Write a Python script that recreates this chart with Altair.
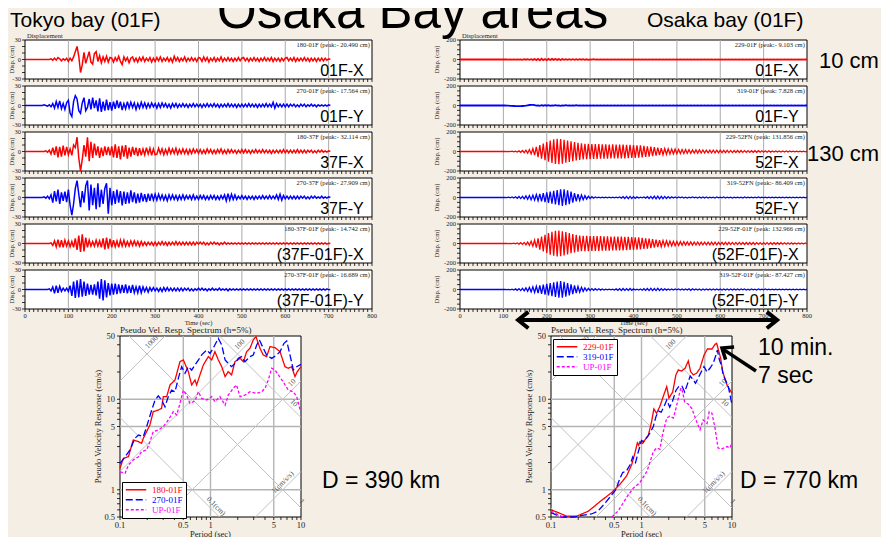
import math
import altair as alt
import pandas as pd

BG = "#F5EEE4"
RED, BLUE, MAGENTA = "#FF0000", "#0000FF", "#FF00FF"
SERIF, SANS = "Liberation Serif", "Liberation Sans"
W, H = 873, 529

# ---------------- displacement records (cm), one value every STEP seconds ----------------
STEP = 4
TOKYO_T0 = 40
OSAKA_T0 = 100
GRID_T = [100, 200, 300, 400, 500, 600, 700]
X_TICKS = list(range(0, 801, 10))
X_LABELS = list(range(0, 801, 100))

TK_01F_X = [0, 0, 0, 0, 0,
            1, -1, 2, -1, 3, 1, -2, 1, -1, 2,
            -3, 2, -2, 4, 12,
            20, 5, -20, -8, 11, -6, 3, 12, -4, -7, 9, 12, -3, 6, -5, 4, -3, 5, -4, 3,
            2, -4, 3, -2, 5, -3, -8, 4, -2, 3, -5, 2, 4, -3, 2, -4, 3, -2, 4, -3, 2, -2, 3, -4, 2, -3,
            3, -2, 4, -3, 2, -2, 3, -3, 2, -4, 5, -2, 3, -3, 2, -2, 4, -3, 2, -2, 3, -2, 2, -3, 3,
            2, -3, 4, -2, 3, -4, 2, -2, 3, -3, 2, -2, 4, -3, 2, -2, 3, -2, 2, -3, 2, -2, 3, -2, 2,
            3, -2, 2, -3, 2, -2, 3, -2, 2, -3, 2, -2, 3, -2, 2, -2, 3, -3, 2, -2, 2, -3, 2, -2, 2,
            3, -2, 2, -2, 3, -3, 2, -2, 2, -2, 3, -2, 2, -3, 2, -2, 2, -3, 2, -2, 2, -2, 2, -1, 1, 0]

TK_01F_Y = [0, 1, 0, -1, 1,
            -2, 3, -4, 6, -3, 7, -5, 3, -6, 4,
            8, -12, -17, 6, 15,
            10, -8, -12, 4, 12, -8, -3, 10, -6, 12, -4, 8, -9, 11, -10, 6, -8, 9, -7, 5,
            -8, 6, -5, 8, -4, 6, -7, 3, -5, 6, -4, 5, -3, 4, -6, 3, -4, 5, -3, 4, -4, 3, -3, 4, -2, 3,
            -4, 3, -3, 4, -2, 3, -3, 2, -4, 3, -2, 3, -3, 2, -2, 3, -2, 2, -3, 2, -2, 3, -2, 2, -2,
            2, -3, 2, -2, 3, -2, 2, -2, 3, -2, 2, -3, 2, -2, 2, -2, 3, -2, 2, -2, 2, -3, 2, -2, 2,
            -2, 2, -2, 3, -2, 2, -2, 2, -3, 2, -2, 2, -2, 3, -2, 2, -2, 5, -4, 3, -2, 2, -2, 2, -2,
            2, -2, 2, -1, 2, -2, 1, -2, 2, -1, 2, -2, 1, -1, 2, -1, 1, -2, 1, -1, 1, -1, 1, -1, 1, 0]

TK_37F_X = [0, 0, 1, -1, 2,
            -4, 6, -5, 8, -9, 7, -8, 9, -6, 7,
            -5, 4, -6, 10, 6,
            22, -10, -30, -12, 10, -8, 22, -15, 15, -10, 12, -6, 8, -10, 6, -7, 8, -5, 7, -6,
            8, -9, 11, -10, 8, -12, 9, -8, 10, -11, 6, -8, 7, -5, 6, -7, 5, -6, 4, -5, 6, -4, 5, -6, 4, -5,
            -4, 5, -3, 4, -5, 3, -4, 5, -3, 4, -3, 5, -4, 3, -3, 4, -3, 3, -4, 3, -3, 4, -2, 3, -3,
            3, -3, 2, -3, 4, -2, 3, -3, 2, -3, 3, -2, 4, -3, 2, -3, 3, -2, 3, -2, 2, -3, 2, -2, 3,
            -2, 3, -2, 2, -3, 2, -2, 3, -2, 2, -2, 3, -2, 2, -2, 2, -3, 2, -2, 2, -2, 2, -2, 3, -2,
            2, -2, 2, -2, 2, -2, 3, -2, 2, -2, 2, -2, 2, -1, 2, -2, 1, -2, 2, -1, 2, -1, 1, -1, 1, 0]

TK_37F_Y = [0, 1, -1, 2, -2,
            4, -8, 10, -6, 12, -10, 8, -5, 9, -7,
            12, -12, -27, -10, 14,
            26, 5, -15, 10, -8, 18, 26, -20, 20, -12, 15, -18, 22, -15, 12, -10, 14, 22, -25, 15,
            -12, 10, -10, 12, -8, 10, -12, 9, -10, 8, -9, 11, -7, 8, -9, 6, -8, 7, -6, 5, -7, 6, -5, 6, -4, 5,
            -4, 5, -3, 4, -4, 3, -5, 4, -3, 4, -3, 3, -4, 3, -3, 4, -3, 3, -2, 3, -3, 4, -3, 2, -3,
            3, -2, 3, -3, 2, -3, 3, -2, 3, -3, 2, -3, 3, -2, 4, -5, 6, -4, 5, -3, 4, -3, 2, -2, 3,
            -2, 2, -3, 2, -2, 2, -3, 2, -2, 2, -2, 3, -2, 2, -2, 3, -2, 2, -2, 4, -3, 5, -4, 3, -2,
            2, -2, 2, -2, 2, -2, 2, -2, 2, -1, 2, -2, 1, -2, 2, -1, 2, -1, 1, -1, 2, -1, 1, -1, 1, 0]

TK_REL_X = [0, 0, 0, 0, 0,
            1, -3, 4, -5, 6, -6, 5, -6, 5, -4,
            4, -5, 3, -6, 8,
            -10, 12, -13, 14, -12, 9, -6, 5, -4, 3, -4, 5, -4, 4, -6, 8, -9, 9, -8, 7,
            -6, 5, -5, 4, -6, 5, -4, 5, -4, 3, -4, 4, -3, 4, -3, 3, -4, 3, -3, 2, -3, 2, -2, 2, -3, 2,
            -3, 2, -2, 3, -2, 2, -3, 2, -2, 2, -2, 3, -2, 2, -2, 2, -2, 2, -2, 2, -2, 2, -2, 2, -1,
            2, -1, 2, -2, 1, -2, 2, -1, 2, -1, 1, -2, 1, -1, 2, -1, 1, -1, 1, -1, 1, -1, 1, -1, 1,
            -1, 1, -1, 1, -1, 1, -1, 1, -1, 1, -1, 1, -1, 1, -1, 1, -1, 1, -1, 1, -1, 1, -1, 1, -1,
            1, -1, 1, -1, 1, -1, 1, -1, 1, -1, 1, -1, 1, -1, 1, -1, 1, -1, 1, -1, 1, -1, 1, -1, 0.5, 0]

TK_REL_Y = [0, 0, 0, 0, 1,
            -2, 4, -6, 6, -5, 5, -3, 2, -2, 2,
            -3, 6, -10, 12, -13,
            14, -12, 16, -11, 12, -10, 9, -8, 7, -8, 8, -9, 12, -14, 16, -17, 14, -12, 10, -9,
            9, -8, 9, -7, 8, -6, 7, -5, 8, -6, 6, -5, 7, -5, 4, -5, 6, -5, 4, -3, 3, -4, 3, -2, 3, -2,
            2, -3, 2, -3, 3, -2, 3, -2, 2, -2, 2, -2, 2, -2, 2, -2, 2, -1, 2, -2, 1, -2, 1, -1, 2,
            -1, 2, -1, 1, -2, 1, -1, 2, -1, 1, -1, 2, -1, 1, -1, 1, -2, 1, -1, 1, -1, 1, -1, 1, -1,
            1, -1, 1, -1, 1, -1, 1, -1, 1, -1, 1, -1, 1, -1, 1, -1, 1, -1, 1, -1, 1, -1, 1, -1, 1,
            -1, 1, -1, 1, -1, 1, -1, 1, -1, 1, -1, 1, -1, 1, -1, 1, -1, 1, -1, 1, -1, 1, -1, 1, -0.5, 0]

OS_01F_X = [0, 0, 1, -1, 1, -1, 1, -2,
            2, -2, 2, -3, 3, -2, 3, -3,
            3, -4, 5, -6, 7, -9, 8, -6,
            5, -7, 6, -5, 6, -4, 5, -4,
            4, -5, 4, -3, 4, -3, 3, -4,
            3, -3, 4, -3, 3, -2, 3, -3,
            2, -3, 2, -2, 3, -2, 2, -2,
            2, -2, 2, -2, 2, -1, 2, -2,
            2, -2, 1, -2, 2, -1, 2, -1,
            1, -2, 1, -1, 2, -1, 1, -1,
            1, -1, 2, -1, 1, -1, 1, -2,
            1, -1, 1, -1, 2, -1, 1, -1,
            1, -1, 1, -1, 1, -1, 1, -1,
            1, -1, 1, -2, 1, -1, 1, -1,
            1, -1, 1, -1, 1, -1, 1, -1,
            1, -1, 1, -1, 1, -1, 1, -1,
            1, -1, 1, -1, 1, -1, 1, -1,
            1, -1, 1, -1, 1, -1, 1, -1,
            1, -1, 1, -1, 1, -1, 1, -1,
            1, -1, 1, -1, 1, -1, 1, -1,
            1, -1, 1, -1, 1, -1, 1, -1,
            1, -1, 1, -1, 1, -1, 1, 0]

OS_01F_Y = [0, 0, -1, -2, -3, -4, -5, -6,
            -7, -6, -7, -5, -3, -1, 2, 5,
            7, 6, 3, -2, 2, -3, 3, -2,
            3, -2, 4, -3, 2, -2, 3, -2,
            2, -3, 2, -2, 3, -2, 2, -2,
            2, -2, 3, -2, 2, -2, 2, -1,
            2, -1, 2, -2, 1, -1, 2, -1,
            1, -1, 2, -1, 1, -1, 1, -1,
            1, -1, 1, -1, 1, -1, 1, -1,
            1, -1, 1, -1, 1, -1, 1, -1,
            1, -1, 1, -1, 1, -1, 1, -1,
            1, -1, 1, -1, 1, -1, 1, -1,
            1, -1, 1, -1, 1, -1, 1, -1,
            1, -1, 1, -1, 1, -1, 1, -1,
            1, -1, 1, -1, 1, -1, 1, -1,
            1, -1, 1, -1, 1, -1, 1, -1,
            1, -1, 1, -1, 1, -1, 1, -1,
            1, -1, 1, -1, 1, -1, 1, -1,
            1, -1, 1, -1, 1, -1, 1, -1,
            1, -1, 1, -1, 1, -1, 1, -1,
            1, -1, 1, -1, 1, -1, 1, -1,
            1, -1, 1, -1, 1, -1, 1, 0]

OS_52F_X = [0, 1, -1, 2, -2, 3, -3, 4,
            -5, 6, -8, 10, -12, 14, -17, 20,
            -24, 30, -38, 48, -58, 66, -74, 82,
            -90, 98, -105, 112, -118, 124, -128, 131,
            -130, 128, -125, 120, -116, 112, -108, 104,
            -100, 96, -92, 88, -86, 84, -82, 80,
            -80, 78, -78, 77, -76, 76, -75, 75,
            -74, 74, -73, 74, -73, 72, -72, 73,
            -72, 72, -71, 71, -70, 70, -70, 69,
            -68, 68, -67, 66, -65, 64, -63, 62,
            -60, 58, -56, 54, -52, 50, -48, 45,
            -42, 40, -38, 35, -33, 30, -28, 27,
            -26, 25, -24, 24, -22, 22, -21, 20,
            -20, 19, -19, 18, -18, 17, -17, 16,
            -16, 16, -15, 15, -15, 14, -14, 14,
            -14, 13, -13, 14, -13, 13, -12, 12,
            -12, 12, -11, 11, -11, 10, -10, 10,
            -10, 10, -9, 9, -9, 9, -9, 8,
            -8, 8, -8, 8, -7, 7, -7, 7,
            -7, 7, -6, 6, -6, 6, -6, 5,
            -5, 5, -5, 5, -5, 5, -4, 4,
            -4, 4, -4, 4, -4, 4, -3, 3]

OS_52F_Y = [0, 1, -2, 3, -4, 5, -6, 7,
            -8, 10, -11, 12, -14, 16, -18, 20,
            -22, 24, -27, 30, -33, 36, -40, 44,
            -48, 52, -56, 60, -64, 68, -72, 76,
            -80, 84, -87, 85, -80, 74, -68, 60,
            -52, 46, -40, 35, -30, 26, -22, 19,
            -16, 13, -10, 8, -6, 5, -4, 4,
            -3, 4, -4, 3, -4, 3, -3, 4,
            -4, 3, -4, 5, -6, 8, -10, 11,
            -12, 11, -10, 9, -8, 6, -5, 4,
            -4, 5, -6, 8, -10, 11, -12, 13,
            -13, 14, -13, 12, -12, 11, -10, 9,
            -8, 7, -6, 5, -5, 5, -4, 5,
            -5, 4, -5, 4, -4, 5, -4, 4,
            -5, 5, -6, 6, -6, 5, -5, 4,
            -4, 4, -5, 5, -4, 4, -4, 5,
            -5, 4, -4, 4, -5, 4, -4, 4,
            -4, 4, -5, 5, -4, 4, -4, 4,
            -4, 4, -4, 5, -4, 4, -4, 4,
            -4, 4, -4, 4, -4, 3, -4, 4,
            -4, 4, -3, 4, -4, 3, -3, 3,
            -3, 3, -3, 3, -3, 3, -3, 3]

OS_REL_X = [0, 0, 1, -1, 2, -2, 3, -4,
            5, -6, 8, -9, 11, -13, 15, -18,
            22, -28, 34, -42, 52, -62, 72, -82,
            90, -98, 106, -114, 120, -126, 130, -133,
            132, -130, 126, -122, 118, -112, 106, -100,
            96, -92, 88, -85, 82, -80, 80, -79,
            78, -78, 77, -76, 76, -76, 75, -75,
            75, -74, 74, -74, 73, -73, 72, -72,
            72, -71, 71, -70, 70, -70, 69, -68,
            68, -67, 66, -65, 64, -63, 62, -60,
            58, -56, 54, -52, 50, -48, 45, -42,
            40, -38, 35, -33, 30, -28, 27, -26,
            25, -24, 23, -22, 21, -20, 19, -18,
            18, -17, 17, -16, 16, -16, 15, -15,
            15, -15, 14, -14, 14, -14, 14, -13,
            13, -13, 13, -13, 12, -12, 12, -12,
            12, -12, 12, -11, 11, -11, 11, -11,
            11, -10, 10, -10, 10, -10, 10, -10,
            10, -10, 9, -9, 9, -9, 9, -9,
            9, -9, 8, -8, 8, -8, 8, -8,
            8, -7, 7, -7, 7, -7, 7, -6,
            6, -6, 6, -6, 5, -5, 5, -5]

OS_REL_Y = [0, 1, -1, 2, -3, 4, -5, 6,
            -8, 9, -11, 12, -14, 16, -18, 21,
            -24, 27, -30, 33, -37, 41, -45, 49,
            -53, 57, -61, 65, -69, 73, -77, 81,
            -84, 87, -85, 80, -74, 67, -60, 53,
            -47, 41, -36, 31, -27, 23, -19, 16,
            -14, 12, -10, 9, -8, 8, -7, 7,
            -6, 6, -5, 4, -4, 3, -4, 4,
            -5, 6, -8, 9, -10, 10, -9, 8,
            -9, 10, -8, 6, -5, 4, -5, 6,
            -7, 8, -9, 10, -11, 12, -11, 10,
            -11, 12, -10, 9, -8, 7, -6, 6,
            -5, 5, -6, 5, -4, 5, -5, 6,
            -6, 5, -6, 7, -8, 7, -6, 5,
            -5, 6, -7, 6, -5, 6, -6, 5,
            -5, 5, -6, 6, -5, 5, -5, 6,
            -6, 5, -5, 5, -6, 6, -5, 5,
            -5, 5, -4, 5, -5, 4, -5, 5,
            -4, 4, -5, 5, -4, 4, -4, 5,
            -4, 4, -4, 4, -4, 4, -4, 4,
            -4, 4, -3, 4, -4, 3, -3, 3,
            -3, 3, -3, 3, -3, 3, -3, 3]

# ---------------- pseudo velocity response spectra (period s, cm/s) ----------------
TK_SPEC_NAMES = ["180-01F", "270-01F", "UP-01F"]
TK_180_T = [0.1, 0.109, 0.124, 0.14, 0.16, 0.173, 0.181, 0.214, 0.233, 0.265, 0.288, 0.301, 0.328, 0.357, 0.405,
            0.46, 0.501, 0.569, 0.619, 0.674, 0.703, 0.765, 0.833, 0.946, 1.03, 1.12, 1.22, 1.33, 1.45, 1.57,
            1.71, 1.86, 2.12, 2.31, 2.51, 2.73, 2.97, 3.18, 3.52, 3.83, 4.17, 4.54, 5.16, 5.86, 6.11,
            6.65, 7.24, 7.88, 8.58, 9.1, 10]
TK_180_SV = [1.73, 2.22, 2.32, 3.55, 3.4, 3.26, 3.7, 5.2, 7.3, 7.6, 7.94, 10.7, 10.7, 14.4, 16.3,
             26, 27.2, 20.2, 14.4, 16.3, 14.4, 18.6, 23.9, 29.6, 27.2, 33.6, 27.2, 22.9, 17.8, 20.2,
             18.6, 26, 28.3, 26, 33.6, 36.6, 45.2, 49.2, 36.6, 30.8, 29.6, 38.1, 37.2, 33.6, 29.6,
             22.9, 22.0, 22.9, 17.8, 20.2, 22.9]
TK_270_T = [0.1, 0.114, 0.129, 0.146, 0.16, 0.181, 0.197, 0.224, 0.244, 0.265, 0.288, 0.314, 0.342, 0.372, 0.405,
            0.441, 0.48, 0.523, 0.569, 0.619, 0.674, 0.734, 0.799, 0.907, 0.987, 1.07, 1.22, 1.33, 1.45, 1.57,
            1.71, 1.86, 2.03, 2.21, 2.4, 2.73, 2.97, 3.24, 3.47, 3.83, 4.17, 4.74, 5.38, 5.86, 6.49,
            6.95, 7.56, 8.23, 8.96, 10]
TK_270_SV = [1.96, 2.32, 2.75, 3.7, 4.03, 3.86, 4.98, 7.6, 9.8, 10.9, 9.8, 8.27, 10.7, 12.6, 12.1,
             17.0, 22.9, 19.4, 22.9, 21.0, 24.0, 27.0, 31.0, 35.0, 32.1, 36.6, 47.1, 39.8, 27.2, 24.9,
             22.9, 24.9, 28.3, 29.6, 26, 29.6, 30.8, 39.8, 45.2, 36.6, 30.8, 28.3, 30.8, 33.6, 41.5,
             44.0, 30.8, 21.1, 22.9, 24.3]
TK_UP_T = [0.1, 0.114, 0.124, 0.14, 0.16, 0.173, 0.197, 0.214, 0.233, 0.265, 0.301, 0.342, 0.389, 0.423, 0.46,
           0.501, 0.545, 0.593, 0.674, 0.734, 0.799, 0.907, 1.03, 1.12, 1.27, 1.45, 1.57, 1.78, 1.94, 2.12,
           2.4, 2.73, 3.24, 3.68, 4.0, 4.35, 4.74, 5.16, 5.62, 6.38, 7.24, 8.23, 8.96, 9.9]
TK_UP_SV = [1.58, 1.52, 1.88, 2.13, 2.32, 2.64, 2.75, 3.4, 4.39, 4.57, 4.98, 5.9, 7.3, 6.7, 9.0,
            12.6, 11.1, 9.0, 9.6, 12.1, 10.2, 9.8, 10.7, 9.4, 10.7, 8.6, 11.1, 13.2, 14.4, 10.7,
            11.1, 12.1, 11.6, 12.1, 13.2, 16.3, 22, 21.1, 18.6, 15.5, 12.6, 12.1, 10.7, 7.3]

OS_SPEC_NAMES = ["229-01F", "319-01F", "UP-01F"]
OS_229_T = [0.1, 0.12, 0.149, 0.192, 0.259, 0.348, 0.468, 0.578, 0.685, 0.78, 0.85, 0.9, 0.93, 0.962, 1.03,
            1.09, 1.19, 1.29, 1.37, 1.47, 1.6, 1.77, 1.9, 2.01, 2.21, 2.4, 2.55, 2.78, 3.03, 3.29,
            3.49, 3.74, 4.07, 4.43, 4.91, 5.34, 6.0, 6.5, 6.77, 7.0, 7.5, 7.88, 8.8, 10]
OS_229_SV = [0.6, 0.56, 0.51, 0.51, 0.58, 0.74, 0.93, 1.15, 1.42, 1.9, 2.6, 3.3, 3.1, 3.4, 3.25,
             3.55, 4.0, 5.6, 7.8, 7.0, 8.4, 11.3, 13.8, 10.3, 12.0, 18.6, 21.1, 20.5, 22, 26.5,
             20.2, 18.6, 19.4, 22, 30.8, 35.9, 35.9, 40.5, 41.5, 36.6, 28.3, 20.2, 14.4, 11.6]
OS_319_T = [0.1, 0.13, 0.18, 0.22, 0.28, 0.33, 0.4, 0.47, 0.52, 0.58, 0.62, 0.68, 0.75, 0.8, 0.86,
            0.92, 1.0, 1.05, 1.15, 1.25, 1.35, 1.45, 1.55, 1.65, 1.8, 1.9, 2.05, 2.2, 2.4, 2.6,
            2.8, 3.0, 3.2, 3.45, 3.7, 3.95, 4.4, 4.9, 5.3, 5.7, 6.2, 6.6, 6.9, 7.2, 7.7, 8.0, 9.1, 10]
OS_319_SV = [0.56, 0.5, 0.5, 0.52, 0.54, 0.58, 0.72, 0.88, 1.0, 1.35, 1.55, 1.6, 1.9, 2.3, 2.0,
             2.6, 3.5, 3.4, 3.8, 4.3, 5.0, 6.5, 7.4, 7.2, 8.6, 9.8, 8.2, 9.5, 12.5, 14.0,
             14.0, 12.0, 14.5, 18.0, 16.5, 15.0, 18.6, 23, 20, 22, 25, 30, 35, 28, 23, 18.6, 13.8, 8.7]
OS_UP_T = [0.1, 0.12, 0.135,
           0.47, 0.55, 0.62, 0.7, 0.81, 0.96, 1.15, 1.35, 1.47, 1.6, 1.7, 1.9, 2.05, 2.25, 2.4,
           2.7, 2.78, 3.0, 3.3, 3.6, 4.07, 4.43, 4.8, 5.3, 5.6, 6.0, 6.5, 7.0, 7.6, 8.8, 9.5, 10]
OS_UP_SV = [0.58, 0.53, 0.5,
            0.5, 0.58, 0.7, 0.85, 1.04, 1.2, 1.6, 2.64, 2.9, 2.8, 4.0, 6.2, 6.5, 6.2, 7.9,
            13, 13.3, 9.3, 8.8, 7.9, 5.65, 4.6, 5.9, 5.4, 7.3, 7.0, 4.8, 2.9, 2.8, 3.0, 2.9, 3.3]
OS_UP_BREAK = 3  # the curve leaves the plot (below 0.5 cm/s) after the 3rd point

T_TICKS = [0.1, 0.2, 0.3, 0.4, 0.5, 0.6, 0.7, 0.8, 0.9, 1, 2, 3, 4, 5, 6, 7, 8, 9, 10]
SV_TICKS = [0.5, 0.6, 0.7, 0.8, 0.9, 1, 2, 3, 4, 5, 6, 7, 8, 9, 10, 20, 30, 40, 50]
T_LABELS = ["0.1", "0.5", "1", "5", "10"]
SV_LABELS = ["0.5", "1", "5", "10", "50"]
T_GRID = [0.5, 1, 5]
SV_GRID = [1, 5, 10]
ACC_LINES = [1, 10, 100, 1000]      # cm/s/s
DISP_LINES = [0.01, 0.1, 1, 10]     # cm
DIAG_LABELS = ["1000", "100", "10", "1(cm/s/s)", "10", "1", "0.1(cm)"]
DIAG_KIND = ["A", "A", "A", "A", "D", "D", "D"]
DIAG_LEVEL = [1000, 100, 10, 1, 10, 1, 0.1]
DIAG_AT_T = [0.245, 2.3, 8.7, 6.9, 7.6, 9.3, 1.05]

LABEL_COLOR_EXPR = ("indexof(['180-01F','229-01F'], datum.value) >= 0 ? '#FF0000' : "
                    "(datum.value == 'UP-01F' ? '#FF00FF' : '#0000FF')")
CHEVRON = "M-1,-0.8L0,0L-1,0.8"

LEFT_X = [17, 364]
RIGHT_X = [452, 799]
INK = "#222222"


def txt_layer(df, xs, ys, xf, yf, **mark):
    return alt.Chart(df).mark_text(**mark).encode(
        x=alt.X(f"{xf}:Q", scale=xs, axis=None), y=alt.Y(f"{yf}:Q", scale=ys, axis=None), text="s:N")


def wave_panel(side, row, t0, vals, color, peak, label, ymax, ystep, width):
    xr = LEFT_X if side == "L" else RIGHT_X
    top = 32 + 46 * row
    bot = top + 39
    xs = alt.Scale(domain=[0, 800], range=xr, nice=False, zero=False)
    ys = alt.Scale(domain=[-ymax, ymax], range=[bot, top], nice=False, zero=False)
    last = row == 5
    frame_df = pd.DataFrame({"x0": [0], "x1": [800], "y0": [-ymax], "y1": [ymax]})
    frame = alt.Chart(frame_df).mark_rect(fill="white", stroke="black", strokeWidth=1).encode(
        x=alt.X("x0:Q", scale=xs, axis=None), x2="x1:Q",
        y=alt.Y("y0:Q", scale=ys, axis=None), y2="y1:Q")
    grid_df = pd.DataFrame({"g": GRID_T, "y0": [-ymax] * len(GRID_T), "y1": [ymax] * len(GRID_T)})
    grid = alt.Chart(grid_df).mark_rule(color="#ABABAB", strokeWidth=1).encode(
        x=alt.X("g:Q", scale=xs, axis=None), y=alt.Y("y0:Q", scale=ys, axis=None), y2="y1:Q")
    times = [0] + [t0 + STEP * i for i in range(len(vals))]
    wave_df = pd.DataFrame({"t": times, "v": [0] + list(vals)})
    wave = alt.Chart(wave_df).mark_line(color=color, strokeWidth=width).encode(
        x=alt.X("t:Q", scale=xs, axis=None), y=alt.Y("v:Q", scale=ys, axis=None))
    # axes drawn as marks through the panel scales
    xt = alt.Chart(pd.DataFrame({"t": X_TICKS, "yb": [-ymax] * len(X_TICKS)})).mark_rule(
        color="black", strokeWidth=0.8, y2Offset=3).encode(
        x=alt.X("t:Q", scale=xs, axis=None), y=alt.Y("yb:Q", scale=ys, axis=None), y2="yb:Q")
    yvals = list(range(-ymax, ymax + 1, ystep))
    yt = alt.Chart(pd.DataFrame({"v": yvals, "x0": [0] * len(yvals)})).mark_rule(
        color="black", strokeWidth=0.8, x2Offset=-3).encode(
        x=alt.X("x0:Q", scale=xs, axis=None), x2="x0:Q", y=alt.Y("v:Q", scale=ys, axis=None))
    ylab = txt_layer(pd.DataFrame({"x": [0, 0, 0], "y": [ymax, 0, -ymax],
                                   "s": [str(ymax), "0", str(-ymax)]}), xs, ys, "x", "y",
                     align="right", baseline="middle", dx=-4, font=SERIF, fontSize=6.5, color=INK)
    ytitle = alt.Chart(pd.DataFrame({"x": [0], "y": [0], "s": ["Disp. (cm)"]})).mark_text(
        angle=270, align="center", baseline="middle", dy=-13.5 if side == "L" else -23,
        font=SERIF, fontSize=6.5, color=INK).encode(
        x=alt.X("x:Q", scale=xs, axis=None), y=alt.Y("y:Q", scale=ys, axis=None), text="s:N")
    pk = txt_layer(pd.DataFrame({"x": [795], "y": [ymax], "s": [peak]}), xs, ys, "x", "y",
                   align="right", baseline="top", dy=2, font=SERIF, fontSize=6.5, color=INK)
    big = txt_layer(pd.DataFrame({"x": [781], "y": [-ymax], "s": [label]}), xs, ys, "x", "y",
                    align="right", baseline="alphabetic", dy=-3, font=SANS, fontSize=16, color="black")
    layers = [frame, grid, wave, xt, yt, ylab, ytitle, pk, big]
    if row == 0:
        layers.append(txt_layer(pd.DataFrame({"x": [0], "y": [ymax], "s": ["Displacement"]}), xs, ys, "x", "y",
                                align="left", baseline="bottom", dx=2, dy=-1, font=SERIF, fontSize=6.5,
                                color=INK))
    if last:
        layers.append(txt_layer(pd.DataFrame({"x": X_LABELS, "y": [-ymax] * len(X_LABELS),
                                              "s": [str(v) for v in X_LABELS]}), xs, ys, "x", "y",
                                align="center", baseline="top", dy=4, font=SERIF, fontSize=6.5, color=INK))
        layers.append(txt_layer(pd.DataFrame({"x": [400], "y": [-ymax], "s": ["Time (sec)"]}), xs, ys, "x", "y",
                                align="center", baseline="top", dy=11, font=SERIF, fontSize=6.5, color=INK))
    if side == "R" and last:
        arr_df = pd.DataFrame({"t0": [140], "t1": [725], "y": [-313]})
        shaft = alt.Chart(arr_df).mark_rule(color="black", strokeWidth=4).encode(
            x=alt.X("t0:Q", scale=xs, axis=None), x2="t1:Q", y=alt.Y("y:Q", scale=ys, axis=None))
        heads_df = pd.DataFrame({"t": [134, 731], "y": [-313, -313], "ang": [180, 0]})
        heads = alt.Chart(heads_df).mark_point(shape=CHEVRON, size=420, filled=False, color="black",
                                               strokeWidth=4, opacity=1, strokeJoin="miter").encode(
            x=alt.X("t:Q", scale=xs, axis=None), y=alt.Y("y:Q", scale=ys, axis=None),
            angle=alt.Angle("ang:Q", scale=None))
        layers += [shaft, heads]
    return alt.layer(*layers)


def diag_segments():
    rows = []
    lo_t, hi_t = -1.0, 1.0
    lo_s, hi_s = math.log10(0.5), math.log10(50)
    for a in ACC_LINES:
        c = math.log10(a / (2 * math.pi))
        t1, t2 = max(lo_t, lo_s - c), min(hi_t, hi_s - c)
        if t1 < t2:
            rows.append({"x0": 10 ** t1, "x1": 10 ** t2, "y0": 10 ** (c + t1), "y1": 10 ** (c + t2)})
    for d in DISP_LINES:
        c = math.log10(2 * math.pi * d)
        t1, t2 = max(lo_t, c - hi_s), min(hi_t, c - lo_s)
        if t1 < t2:
            rows.append({"x0": 10 ** t1, "x1": 10 ** t2, "y0": 10 ** (c - t1), "y1": 10 ** (c - t2)})
    return pd.DataFrame(rows)


def spectrum(side, names, curves, legend_xy):
    xr = [112, 293] if side == "L" else [543, 724]
    xs = alt.Scale(type="log", domain=[0.1, 10], range=xr, nice=False)
    ys = alt.Scale(type="log", domain=[0.5, 50], range=[509, 328], nice=False)
    frame = alt.Chart(pd.DataFrame({"x0": [0.1], "x1": [10], "y0": [0.5], "y1": [50]})).mark_rect(
        fill="white", stroke="black", strokeWidth=1).encode(
        x=alt.X("x0:Q", scale=xs, axis=None), x2="x1:Q", y=alt.Y("y0:Q", scale=ys, axis=None), y2="y1:Q")
    g_rows = [{"x0": t, "x1": t, "y0": 0.5, "y1": 50} for t in T_GRID] + \
             [{"x0": 0.1, "x1": 10, "y0": s, "y1": s} for s in SV_GRID]
    grid = alt.Chart(pd.DataFrame(g_rows)).mark_rule(color="#B4B4B4", strokeWidth=1.4).encode(
        x=alt.X("x0:Q", scale=xs, axis=None), x2="x1:Q", y=alt.Y("y0:Q", scale=ys, axis=None), y2="y1:Q")
    diag = alt.Chart(diag_segments()).mark_rule(color="#C2C2C2", strokeWidth=1).encode(
        x=alt.X("x0:Q", scale=xs, axis=None), x2="x1:Q", y=alt.Y("y0:Q", scale=ys, axis=None), y2="y1:Q")
    lab_rows = []
    for txt, kind, lev, t in zip(DIAG_LABELS, DIAG_KIND, DIAG_LEVEL, DIAG_AT_T):
        sv = lev * t / (2 * math.pi) if kind == "A" else 2 * math.pi * lev / t
        lab_rows.append({"T": t, "Sv": sv, "txt": txt, "ang": 315 if kind == "A" else 45})
    dlab = alt.Chart(pd.DataFrame(lab_rows)).mark_text(
        font=SERIF, fontSize=7.5, color="#555", baseline="bottom", dy=-1).encode(
        x=alt.X("T:Q", scale=xs, axis=None), y=alt.Y("Sv:Q", scale=ys, axis=None), text="txt:N",
        angle=alt.Angle("ang:Q", scale=None))
    rows = []
    for name, (ts, svs, brk) in zip(names, curves):
        for i, (t, s) in enumerate(zip(ts, svs)):
            rows.append({"T": t, "Sv": s, "comp": name, "seg": name + ("a" if i < brk else "b")})
    leg = alt.Legend(orient="none", legendX=legend_xy[0], legendY=legend_xy[1], title=None,
                     symbolType="stroke", symbolSize=420, symbolStrokeWidth=1.5, clipHeight=9.5,
                     labelFont=SERIF, labelFontSize=9, labelColor=alt.ExprRef(LABEL_COLOR_EXPR),
                     strokeColor="black", fillColor="white", padding=3, rowPadding=0, labelOffset=5)
    lines = alt.Chart(pd.DataFrame(rows)).mark_line(strokeWidth=1.3).encode(
        x=alt.X("T:Q", scale=xs, axis=None), y=alt.Y("Sv:Q", scale=ys, axis=None),
        color=alt.Color("comp:N", scale=alt.Scale(domain=names, range=[RED, BLUE, MAGENTA]), legend=leg),
        strokeDash=alt.StrokeDash("comp:N", scale=alt.Scale(domain=names, range=[[1, 0], [7, 3], [3, 2]]),
                                  legend=leg),
        detail="seg:N")
    # axes as marks
    xt = alt.Chart(pd.DataFrame({"T": T_TICKS, "yb": [0.5] * len(T_TICKS)})).mark_rule(
        color="black", strokeWidth=0.8, y2Offset=3).encode(
        x=alt.X("T:Q", scale=xs, axis=None), y=alt.Y("yb:Q", scale=ys, axis=None), y2="yb:Q")
    yt = alt.Chart(pd.DataFrame({"Sv": SV_TICKS, "x0": [0.1] * len(SV_TICKS)})).mark_rule(
        color="black", strokeWidth=0.8, x2Offset=-3).encode(
        x=alt.X("x0:Q", scale=xs, axis=None), x2="x0:Q", y=alt.Y("Sv:Q", scale=ys, axis=None))
    xlab = txt_layer(pd.DataFrame({"x": [float(v) for v in T_LABELS], "y": [0.5] * len(T_LABELS),
                                   "s": T_LABELS}), xs, ys, "x", "y",
                     align="center", baseline="top", dy=4, font=SERIF, fontSize=8.5, color=INK)
    ylab = txt_layer(pd.DataFrame({"x": [0.1] * len(SV_LABELS), "y": [float(v) for v in SV_LABELS],
                                   "s": SV_LABELS}), xs, ys, "x", "y",
                     align="right", baseline="middle", dx=-5, font=SERIF, fontSize=8.5, color=INK)
    xtitle = txt_layer(pd.DataFrame({"x": [1], "y": [0.5], "s": ["Period (sec)"]}), xs, ys, "x", "y",
                       align="center", baseline="top", dy=12.5, font=SERIF, fontSize=8.5, color=INK)
    ytitle = alt.Chart(pd.DataFrame({"x": [0.1], "y": [5], "s": ["Pseudo Velocity Response (cm/s)"]})).mark_text(
        angle=270, align="center", baseline="middle", dy=-22, font=SERIF, fontSize=8.5, color=INK).encode(
        x=alt.X("x:Q", scale=xs, axis=None), y=alt.Y("y:Q", scale=ys, axis=None), text="s:N")
    ttl = txt_layer(pd.DataFrame({"x": [0.1], "y": [50], "s": ["Pseudo Vel. Resp. Spectrum (h=5%)"]}),
                    xs, ys, "x", "y", align="left", baseline="bottom", dy=-1, font=SERIF, fontSize=9, color=INK)
    layers = [frame, grid, diag, dlab, lines, xt, yt, xlab, ylab, xtitle, ytitle, ttl]
    if side == "R":
        arr = alt.Chart(pd.DataFrame({"x0": [18.4], "x1": [8.0], "y0": [20.5], "y1": [35.6]})).mark_rule(
            color="black", strokeWidth=3.5).encode(
            x=alt.X("x0:Q", scale=xs, axis=None), x2="x1:Q", y=alt.Y("y0:Q", scale=ys, axis=None), y2="y1:Q")
        head = alt.Chart(pd.DataFrame({"T": [7.75], "Sv": [36.8], "ang": [214]})).mark_point(
            shape=CHEVRON, size=360, filled=False, color="black", strokeWidth=3.5, opacity=1,
            strokeJoin="miter").encode(
            x=alt.X("T:Q", scale=xs, axis=None), y=alt.Y("Sv:Q", scale=ys, axis=None),
            angle=alt.Angle("ang:Q", scale=None))
        layers += [arr, head]
    return alt.layer(*layers)


panels = [
    wave_panel("L", 0, TOKYO_T0, TK_01F_X, RED, "180-01F (peak:- 20.490 cm)", "01F-X", 30, 10, 1.5),
    wave_panel("L", 1, TOKYO_T0, TK_01F_Y, BLUE, "270-01F (peak:- 17.564 cm)", "01F-Y", 30, 10, 1.5),
    wave_panel("L", 2, TOKYO_T0, TK_37F_X, RED, "180-37F (peak:- 32.114 cm)", "37F-X", 30, 10, 1.5),
    wave_panel("L", 3, TOKYO_T0, TK_37F_Y, BLUE, "270-37F (peak:- 27.909 cm)", "37F-Y", 30, 10, 1.5),
    wave_panel("L", 4, TOKYO_T0, TK_REL_X, RED, "180-37F-01F (peak:- 14.742 cm)", "(37F-01F)-X", 30, 10, 1.5),
    wave_panel("L", 5, TOKYO_T0, TK_REL_Y, BLUE, "270-37F-01F (peak:- 16.689 cm)", "(37F-01F)-Y", 30, 10, 1.5),
    wave_panel("R", 0, OSAKA_T0, OS_01F_X, RED, "229-01F (peak:- 9.103 cm)", "01F-X", 200, 50, 1.8),
    wave_panel("R", 1, OSAKA_T0, OS_01F_Y, BLUE, "319-01F (peak: 7.828 cm)", "01F-Y", 200, 50, 1.8),
    wave_panel("R", 2, OSAKA_T0, OS_52F_X, RED, "229-52FN (peak: 131.856 cm)", "52F-X", 200, 50, 1.3),
    wave_panel("R", 3, OSAKA_T0, OS_52F_Y, BLUE, "319-52FN (peak:- 86.409 cm)", "52F-Y", 200, 50, 1.3),
    wave_panel("R", 4, OSAKA_T0, OS_REL_X, RED, "229-52F-01F (peak: 132.966 cm)", "(52F-01F)-X", 200, 50, 1.3),
    wave_panel("R", 5, OSAKA_T0, OS_REL_Y, BLUE, "319-52F-01F (peak:- 87.427 cm)", "(52F-01F)-Y", 200, 50, 1.3),
    spectrum("L", TK_SPEC_NAMES,
             [(TK_180_T, TK_180_SV, 10 ** 6), (TK_270_T, TK_270_SV, 10 ** 6), (TK_UP_T, TK_UP_SV, 10 ** 6)],
             (114, 474)),
    spectrum("R", OS_SPEC_NAMES,
             [(OS_229_T, OS_229_SV, 10 ** 6), (OS_319_T, OS_319_SV, 10 ** 6), (OS_UP_T, OS_UP_SV, OS_UP_BREAK)],
             (545, 331)),
]

ANN_TEXT = ["Osaka Bay areas", "Tokyo bay (01F)", "Osaka bay (01F)", "10 cm", "130 cm",
            "10 min.", "7 sec", "D = 390 km", "D = 770 km"]
ANN_X = [209, 2, 639, 811, 799, 750, 750, 314, 732]
ANN_Y = [20, 19, 19, 60, 153, 347, 375, 480, 480]
ANN_SIZE = [51, 21, 21, 22, 22, 23, 23, 23, 23]
ann = alt.Chart(pd.DataFrame({"txt": ANN_TEXT, "x": ANN_X, "y": ANN_Y, "fs": ANN_SIZE})).mark_text(
    align="left", baseline="alphabetic", font=SANS, color="black").encode(
    x=alt.X("x:Q", scale=None, axis=None), y=alt.Y("y:Q", scale=None, axis=None),
    text="txt:N", size=alt.Size("fs:Q", scale=None, legend=None))

chart = alt.layer(*panels, ann).resolve_scale(
    x="independent", y="independent", color="independent", strokeDash="independent"
).resolve_legend(
    color="independent", strokeDash="independent"
).properties(
    width=W, height=H, autosize=alt.AutoSizeParams(type="none"), padding=0, background=BG
).configure_view(stroke=None)

chart.save("out.html", embed_options={"renderer": "svg", "actions": False})
